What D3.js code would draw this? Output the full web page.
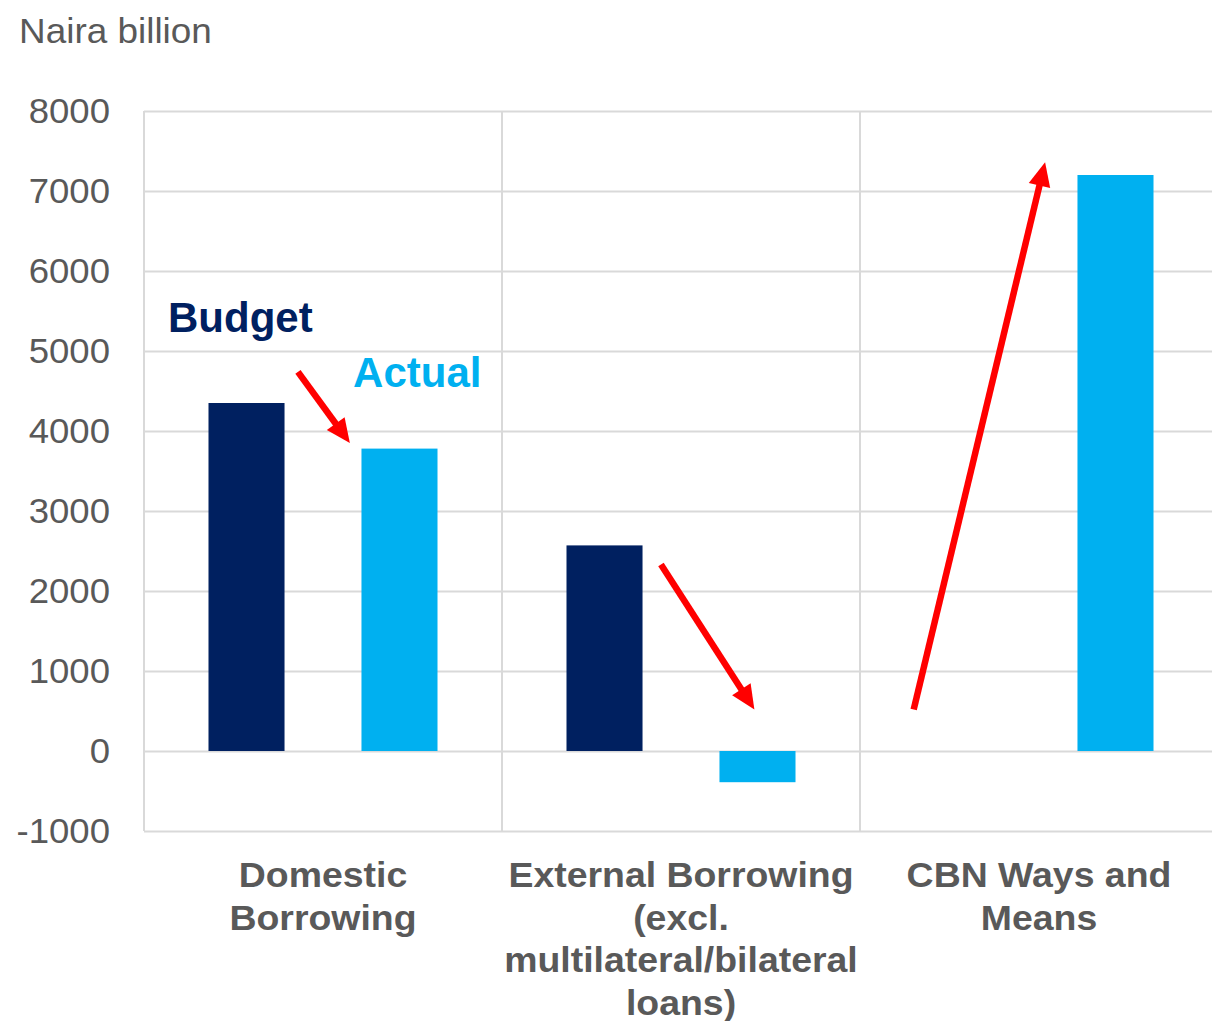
<!DOCTYPE html>
<html>
<head>
<meta charset="utf-8">
<script src="https://cdn.jsdelivr.net/npm/d3@7"></script>
<style>
  html, body { margin: 0; padding: 0; background: #ffffff; }
  svg { display: block; }
  text { font-family: "Liberation Sans", Arial, sans-serif; }
</style>
</head>
<body>
<svg id="chart" width="1212" height="1021"></svg>
<script>
// Government borrowing sources, Naira billion
const categories = [
  ["Domestic", "Borrowing"],
  ["External Borrowing", "(excl.", "multilateral/bilateral", "loans)"],
  ["CBN Ways and", "Means"]
];
const seriesNames = ["Budget", "Actual"];
const budgetValues = [4350, 2570, 0];
const actualValues = [3780, -390, 7200];
const yTicks = [-1000, 0, 1000, 2000, 3000, 4000, 5000, 6000, 7000, 8000];

// Change arrows: positions given as (category index + fraction, value)
const arrows = [
  { from: [0.430, 4740], to: [0.575, 3850] },
  { from: [1.444, 2330], to: [1.705, 520] },
  { from: [2.150, 520], to: [2.517, 7360] }
];
// Series name annotations
const seriesLabels = [
  { name: "Budget", at: [0.067, 5235] },
  { name: "Actual", at: [0.584, 4545] }
];

const colors = { Budget: "#002060", Actual: "#00B0F0" };
const gridColor = "#D9D9D9";
const textGrey = "#595959";

const svg = d3.select("#chart");
const plotLeft = 144, plotTop = 111, plotBottom = 831, bandW = 358;
const plotRight = plotLeft + bandW * categories.length;

const y = d3.scaleLinear().domain([-1000, 8000]).range([plotBottom, plotTop]);
const x = d3.scaleBand().domain(d3.range(categories.length)).range([plotLeft, plotRight]).padding(0);
const xs = d3.scaleBand().domain(seriesNames).range([0, x.bandwidth()])
  .paddingInner(0.503).paddingOuter(0.4216);
const xPos = d3.scaleLinear().domain([0, categories.length]).range([plotLeft, plotRight]);

// Horizontal gridlines
svg.append("g")
  .attr("transform", `translate(${plotLeft},0)`)
  .call(d3.axisLeft(y).tickValues(yTicks).tickSize(-(plotRight - plotLeft)).tickFormat(""))
  .call(g => g.select(".domain").remove())
  .call(g => g.selectAll("line").attr("stroke", gridColor).attr("stroke-width", 2));

// Vertical category separators
svg.append("g").selectAll("line")
  .data(d3.range(categories.length + 1))
  .join("line")
  .attr("x1", i => xPos(i)).attr("x2", i => xPos(i))
  .attr("y1", y(8000)).attr("y2", y(-1000))
  .attr("stroke", gridColor).attr("stroke-width", 2);

// Y tick labels (slightly wide lettering)
const tickStretch = 1.06;
svg.append("g")
  .attr("transform", `translate(${plotLeft},0)`)
  .call(d3.axisLeft(y).tickValues(yTicks).tickSize(0).tickFormat(d => String(d)))
  .call(g => g.select(".domain").remove())
  .call(g => g.selectAll("text")
    .attr("fill", textGrey)
    .attr("x", -34 / tickStretch)
    .attr("transform", `scale(${tickStretch},1)`)
    .style("font-size", "34.5px")
    .style("font-family", "'Liberation Sans', Arial, sans-serif")
    .attr("dy", "0.33em"));

// Bars
const rows = categories.map((c, i) => ({ i, Budget: budgetValues[i], Actual: actualValues[i] }));
const bars = svg.append("g");
rows.forEach(r => {
  seriesNames.forEach(s => {
    const v = r[s];
    bars.append("rect")
      .attr("x", x(r.i) + xs(s))
      .attr("width", xs.bandwidth())
      .attr("y", Math.min(y(v), y(0)))
      .attr("height", Math.abs(y(v) - y(0)))
      .attr("fill", colors[s]);
  });
});

// Category labels
const catG = svg.append("g");
categories.forEach((lines, i) => {
  const t = catG.append("text")
    .attr("text-anchor", "middle")
    .attr("transform", `translate(${x(i) + x.bandwidth() / 2},0) scale(1.085,1)`)
    .attr("fill", textGrey)
    .style("font-size", "34.5px")
    .style("font-weight", "bold");
  lines.forEach((ln, k) => {
    t.append("tspan")
      .attr("x", 0)
      .attr("y", 887 + k * 42.7)
      .text(ln);
  });
});

// Axis title
svg.append("text")
  .attr("transform", "translate(19,43) scale(1.055,1)")
  .attr("fill", textGrey)
  .style("font-size", "35px")
  .text("Naira billion");

// Series name annotations
svg.append("g").selectAll("text")
  .data(seriesLabels)
  .join("text")
  .attr("x", d => xPos(d.at[0]))
  .attr("y", d => y(d.at[1]))
  .attr("fill", d => colors[d.name])
  .style("font-size", "42px")
  .style("font-weight", "bold")
  .text(d => d.name);

// Red arrows
const arrowG = svg.append("g");
const headLen = 24, headHalf = 11;
arrows.forEach(a => {
  const x1 = xPos(a.from[0]), y1 = y(a.from[1]);
  const x2 = xPos(a.to[0]), y2 = y(a.to[1]);
  const dx = x2 - x1, dy = y2 - y1, len = Math.hypot(dx, dy);
  const ux = dx / len, uy = dy / len;
  const bx = x2 - ux * headLen, by = y2 - uy * headLen;
  arrowG.append("line")
    .attr("x1", x1).attr("y1", y1)
    .attr("x2", bx + ux * 2).attr("y2", by + uy * 2)
    .attr("stroke", "#FF0000").attr("stroke-width", 6.5);
  arrowG.append("path")
    .attr("d", `M${x2},${y2} L${bx - uy * headHalf},${by + ux * headHalf} L${bx + uy * headHalf},${by - ux * headHalf} Z`)
    .attr("fill", "#FF0000");
});
</script>
</body>
</html>
